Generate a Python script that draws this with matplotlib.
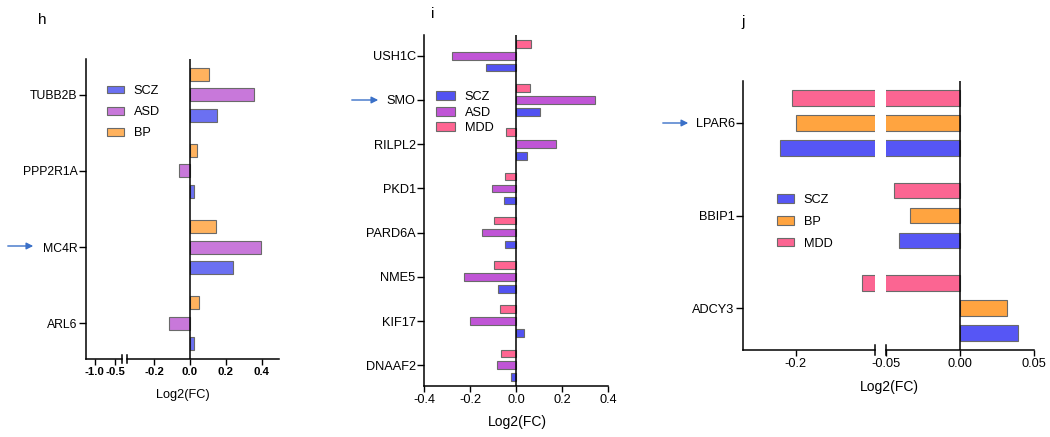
import matplotlib

matplotlib.use("Agg")
import matplotlib.pyplot as plt
import numpy as np

plt.rcParams["font.family"] = ["Liberation Sans", "DejaVu Sans"]

W, H = 1050, 437

# ---- panel h ----
H_GENES = ["TUBB2B", "PPP2R1A", "MC4R", "ARL6"]
H_SERIES = ["BP", "ASD", "SCZ"]  # top -> bottom inside each group
H_VALUES = {
    "BP": [0.107, 0.037, 0.142, 0.050],
    "ASD": [0.357, -0.060, 0.396, -0.119],
    "SCZ": [0.150, 0.022, 0.242, 0.022],
}
H_LEGEND = ["SCZ", "ASD", "BP"]
H_COLORS = {"SCZ": "#6b70f2", "ASD": "#c878da", "BP": "#ffb25e"}

# ---- panel i ----
I_GENES = ["USH1C", "SMO", "RILPL2", "PKD1", "PARD6A", "NME5", "KIF17", "DNAAF2"]
I_SERIES = ["MDD", "ASD", "SCZ"]
I_VALUES = {
    "MDD": [0.064, 0.062, -0.045, -0.048, -0.097, -0.096, -0.070, -0.065],
    "ASD": [-0.277, 0.342, 0.174, -0.104, -0.148, -0.226, -0.200, -0.083],
    "SCZ": [-0.130, 0.104, 0.048, -0.051, -0.046, -0.080, 0.036, -0.022],
}
I_LEGEND = ["SCZ", "ASD", "MDD"]
I_COLORS = {"SCZ": "#5252f2", "ASD": "#c055d6", "MDD": "#ff6592"}

# ---- panel j ----
J_GENES = ["LPAR6", "BBIP1", "ADCY3"]
J_SERIES = ["MDD", "BP", "SCZ"]
J_VALUES = {
    "MDD": [-0.207, -0.0446, -0.074],
    "BP": [-0.199, -0.0337, 0.0315],
    "SCZ": [-0.229, -0.0413, 0.0395],
}
J_LEGEND = ["SCZ", "BP", "MDD"]
J_COLORS = {"SCZ": "#5656f5", "BP": "#ffa440", "MDD": "#fb6592"}

OFFSET = 0.27
BAR_H = 0.17
EDGE = "#6a6a6a"
ARROW = "#3a70c8"


def px_axes(fig, x0, x1, y0, y1):
    return fig.add_axes([x0 / W, 1 - y1 / H, (x1 - x0) / W, (y1 - y0) / H])


def style(ax, left=True):
    ax.set_facecolor("none")
    ax.spines[["top", "right"]].set_visible(False)
    ax.spines["left"].set_visible(left)
    for s in ("left", "bottom"):
        ax.spines[s].set_linewidth(1.1)
    ax.tick_params(axis="both", width=1.0, length=4, labelsize=8.8, pad=2)
    ax.tick_params(axis="y", length=5, pad=1)
    if not left:
        ax.tick_params(axis="y", left=False, labelleft=False)


def bars(ax, genes, series, values, colors, pad):
    y = np.arange(len(genes))
    for k, s in enumerate(series):
        ax.barh(y + (k - 1) * OFFSET, values[s], height=BAR_H, color=colors[s],
                edgecolor=EDGE, linewidth=0.8, label=s)
    ax.set_ylim(len(genes) - 1 + pad, -pad)
    ax.set_yticks(y)
    ax.set_yticklabels(genes)


def legend(ax, order, x, y, spacing, hl=1.3, hh=0.55):
    hs, ls = ax.get_legend_handles_labels()
    d = dict(zip(ls, hs))
    ax.legend([d[o] for o in order], order, loc="upper left",
              bbox_to_anchor=(x / W, 1 - y / H), bbox_transform=ax.figure.transFigure,
              frameon=False, fontsize=9.2, handlelength=hl, handleheight=hh,
              handletextpad=0.8, labelspacing=spacing, borderpad=0, borderaxespad=0)


def break_mark(ax, xa, h):
    ax.plot([xa, xa], [-h, h], transform=ax.transAxes, color="black",
            lw=1.1, clip_on=False)


def arrow(fig, x0, x1, y):
    fig.patches.append(matplotlib.patches.FancyArrowPatch(
        (x0 / W, 1 - y / H), (x1 / W, 1 - y / H), transform=fig.transFigure,
        arrowstyle="-|>", mutation_scale=10, color=ARROW, lw=1.0))


fig = plt.figure(figsize=(W / 100, H / 100), dpi=100)
fig.patch.set_facecolor("white")

# ---------- h ----------
hl = px_axes(fig, 86, 122, 59, 359)
hr = px_axes(fig, 127, 279, 59, 359)
style(hl)
style(hr, left=False)
for ax in (hl, hr):
    bars(ax, H_GENES, H_SERIES, H_VALUES, H_COLORS, 0.47)
hl.set_xlim(-1.22, -0.33)
hl.set_xticks([-1.0, -0.5])
hl.set_xticklabels(["-1.0", "-0.5"], fontweight="bold", fontsize=8.2)
hr.set_xlim(-0.35, 0.495)
hr.set_xticks([-0.2, 0.0, 0.2, 0.4])
hr.set_xticklabels(["-0.2", "0.0", "0.2", "0.4"], fontweight="bold", fontsize=8.2)
hr.axvline(0, color="black", lw=1.1)
break_mark(hl, 1, 0.014)
break_mark(hr, 0, 0.014)
legend(hr, H_LEGEND, 107, 85, 0.72)
fig.text(183 / W, 1 - 395 / H, "Log2(FC)", ha="center", va="center", fontsize=9.2)
fig.text(42 / W, 1 - 20 / H, "h", ha="center", va="center", fontsize=11)
arrow(fig, 5, 36, 246)

# ---------- i ----------
ai = px_axes(fig, 424, 608, 35, 386)
style(ai)
bars(ai, I_GENES, I_SERIES, I_VALUES, I_COLORS, 0.47)
ai.set_xlim(-0.4, 0.4)
ai.set_xticks([-0.4, -0.2, 0.0, 0.2, 0.4])
ai.set_xticklabels(["-0.4", "-0.2", "0.0", "0.2", "0.4"], fontsize=9.2)
ai.tick_params(axis="y", labelsize=9.2)
ai.axvline(0, color="black", lw=1.1)
legend(ai, I_LEGEND, 436, 91, 0.28, hl=1.45, hh=0.7)
fig.text(517 / W, 1 - 422 / H, "Log2(FC)", ha="center", va="center", fontsize=10)
fig.text(433 / W, 1 - 14 / H, "i", ha="center", va="center", fontsize=11)
arrow(fig, 349, 381, 100)

# ---------- j ----------
jl = px_axes(fig, 743, 875, 81, 350)
jr = px_axes(fig, 886, 1034, 81, 350)
style(jl)
style(jr, left=False)
for ax in (jl, jr):
    bars(ax, J_GENES, J_SERIES, J_VALUES, J_COLORS, 0.45)
jl.set_xlim(-0.30, -0.05)
jl.set_xticks([-0.2])
jl.set_xticklabels(["-0.2"], fontsize=9.2)
jl.tick_params(axis="y", labelsize=9.2)
jr.set_xlim(-0.0492, 0.05)
jr.set_xticks([-0.05, 0.0, 0.05])
jr.set_xticklabels(["-0.05", "0.00", "0.05"], fontsize=9.2)
jr.axvline(0, color="black", lw=1.1)
break_mark(jl, 1, 0.019)
break_mark(jr, 0, 0.019)
legend(jr, J_LEGEND, 777, 194, 0.78, hh=0.6)
fig.text(889 / W, 1 - 387 / H, "Log2(FC)", ha="center", va="center", fontsize=10)
fig.text(743 / W, 1 - 22 / H, "j", ha="center", va="center", fontsize=11)
arrow(fig, 660, 691, 123)

fig.savefig("out.png", dpi=100, facecolor="white")
